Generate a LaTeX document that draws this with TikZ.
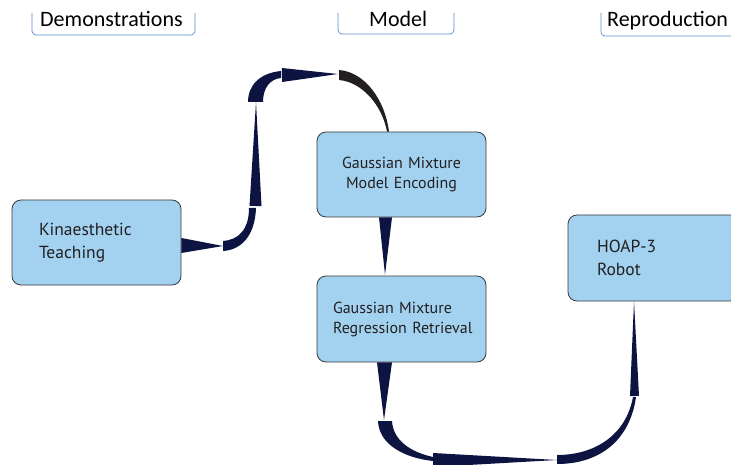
\documentclass[tikz,border=0pt]{standalone}
\usepackage{fontspec}
\setmainfont{PT Sans}
\newfontfamily\headfont{Carlito}
\usetikzlibrary{calc}

\definecolor{boxfill}{HTML}{A3D2F1}
\definecolor{boxline}{HTML}{3A3A3A}
\definecolor{ink}{HTML}{231F20}
\definecolor{navy}{HTML}{0D1442}
\definecolor{bracket}{HTML}{5A8ED3}

\tikzset{
  stage/.style={draw=boxline, line width=0.8pt, fill=boxfill, rounded corners=9pt,
    minimum height=85pt, text=ink, inner ysep=0pt},
  head/.style={font=\headfont\fontsize{22}{26}\selectfont, text=black,
    inner sep=0pt, anchor=base west},
  brk/.style={draw=bracket, line width=0.7pt, rounded corners=4pt},
  big/.style={font=\fontsize{17.5}{23}\selectfont},
  small/.style={font=\fontsize{16}{20}\selectfont},
}

% tapered wedge: base centre #2, tip #3, half width #4
\newcommand\taper[4][navy]{%
  \fill[#1] ($(#2)!#4!90:(#3)$) -- (#3) -- ($(#2)!#4!-90:(#3)$) -- cycle;}

\begin{document}
\begin{tikzpicture}[x=1pt, y=-1pt]
\useasboundingbox (0,0) rectangle (731,465);
\clip (0,0) rectangle (731,465);

% column headings
\node[head] (demo)  at (40,26.7) {Demonstrations};
\node[head] (model) at (369,26.7) {Model};
\node[head] (repro) at (607,27) {Reproduction};
\draw[brk] (32,13) -- (32,35) -- (195,35) -- (195,13);
\draw[brk] (338,13) -- (338,34) -- (454,34) -- (454,13);
\draw[brk] (601,13) -- (601,36) -- (745,36);

% stages
\node[stage, big, text width=115pt, inner xsep=27pt, align=left] (kin)
  at (96.5,242.5) {Kinaesthetic\\Teaching};
\node[stage, small, text width=137pt, inner xsep=16pt, align=center] (enc)
  at (401.5,174.5) {Gaussian Mixture\\Model Encoding};
\node[stage, small, text width=137pt, inner xsep=16pt, align=left, minimum height=86pt] (gmr)
  at (401.5,319) {\mbox{Gaussian Mixture}\\\mbox{Regression Retrieval}};
\node[stage, big, text width=142pt, inner xsep=29pt, align=left, minimum height=86pt] (hoap)
  at (668,258) {HOAP-3\\Robot};

% demonstrations -> model
\coordinate (k0) at ($(kin.east)+(0,3)$);
\coordinate (k1) at (223,246);
\taper{k0}{k1}{7.5pt}
\fill[navy] (223,251) .. controls (241,250) and (255,236) .. (256,208)
  -- (249,208) .. controls (249,230) and (238,240) .. (223,241) -- cycle;
\coordinate (v0) at (255.5,206);
\coordinate (v1) at (256,102);
\taper{v0}{v1}{6pt}
\fill[navy] (248,102) .. controls (248,85) and (260,73) .. (281,71)
  -- (281,78) .. controls (270,79) and (263,88) .. (263,102) -- cycle;
\coordinate (h0) at (282,75);
\coordinate (h1) at (338,74);
\taper{h0}{h1}{7pt}
\coordinate (e1) at ($(enc.north)+(-13.5,0)$);
\fill[ink] (339,70) .. controls (365,72) and (385,100) .. ($(e1)+(1,0)$)
  -- ($(e1)+(-1,0)$) .. controls (382,105) and (362,82) .. (339,80) -- cycle;

% model encoding -> regression
\coordinate (e0) at ($(enc.south)+(-16,0)$);
\coordinate (g0) at ($(gmr.north)+(-16.5,-1)$);
\taper{e0}{g0}{6.5pt}

% regression -> reproduction
\coordinate (r0) at ($(gmr.south)+(-17,0)$);
\coordinate (r1) at (384,420);
\taper{r0}{r1}{7.5pt}
\fill[navy] (378,421) .. controls (379,445) and (405,458) .. (433,461)
  -- (433,457) .. controls (410,452) and (393,440) .. (392,421) -- cycle;
\coordinate (b0) at (433,460);
\coordinate (b1) at (557,460);
\taper{b0}{b1}{7pt}
\fill[navy] (557,464) .. controls (600,464) and (630,440) .. (636,397)
  -- (633,397) .. controls (626,435) and (595,455) .. (557,455) -- cycle;
\coordinate (u0) at (634.5,396);
\coordinate (u1) at ($(hoap.south)+(-34,0)$);
\taper{u0}{u1}{4.5pt}
\end{tikzpicture}
\end{document}
